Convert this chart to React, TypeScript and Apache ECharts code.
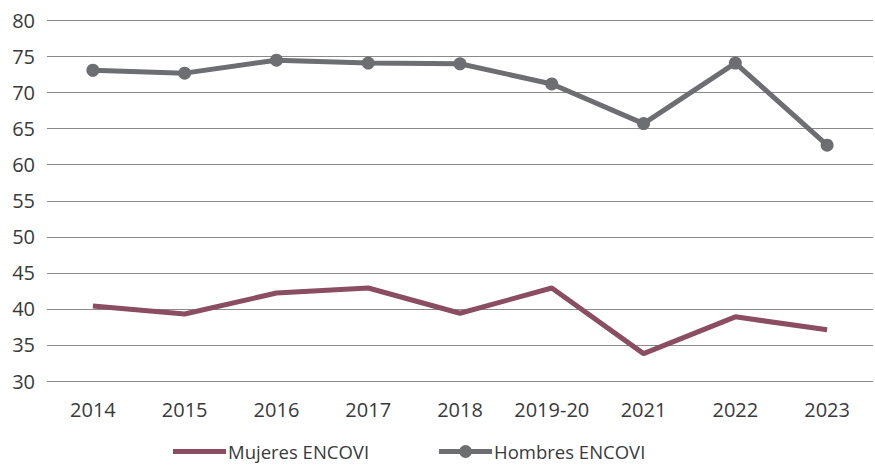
import React, { useEffect, useRef } from "react";
import * as echarts from "echarts";

const categories = ["2014", "2015", "2016", "2017", "2018", "2019-20", "2021", "2022", "2023"];
const mujeres = [40.4, 39.3, 42.2, 42.9, 39.4, 42.9, 33.8, 38.9, 37.1];
const hombres = [73.1, 72.7, 74.5, 74.1, 74.0, 71.2, 65.7, 74.1, 62.7];

const FONT = "Open Sans";
const TEXT = "#3a3a3a";
const C_MUJ = "#8a4d62";
const C_HOM = "#6d6e71";

const ICON_LINE = "path://M0,4 H53 V9 H0 Z";
const ICON_LINE_DOT =
  "path://M0,4 H21 V9 H0 Z M32,4 H53 V9 H32 Z M20,6.5 A6.5,6.5 0 1,1 33,6.5 A6.5,6.5 0 1,1 20,6.5 Z";

export default function App() {
  const ref = useRef<HTMLDivElement>(null);
  useEffect(() => {
    if (!ref.current) return;
    const chart = echarts.init(ref.current, undefined, { renderer: "svg" });
    chart.setOption({
      animation: false,
      textStyle: { fontFamily: FONT },
      grid: { left: 47, right: 2, top: 20.5, bottom: 85, containLabel: false },
      legend: {
        left: 168,
        top: 437,
        itemWidth: 53,
        itemHeight: 13,
        itemGap: 70,
        symbolKeepAspect: true,
        textStyle: { fontFamily: FONT, fontSize: 18.5, color: TEXT, padding: [0, 0, 0, -3] },
        data: [
          { name: "Mujeres ENCOVI", icon: ICON_LINE, itemStyle: { color: C_MUJ, borderWidth: 0 } },
          { name: "Hombres ENCOVI", icon: ICON_LINE_DOT, itemStyle: { color: C_HOM, borderWidth: 0 } },
        ],
      },
      xAxis: {
        type: "category",
        data: categories,
        boundaryGap: true,
        axisLine: { show: false },
        axisTick: { show: false },
        axisLabel: { fontFamily: FONT, fontSize: 20, color: TEXT, margin: 18, interval: 0 },
      },
      yAxis: {
        type: "value",
        min: 30,
        max: 80,
        interval: 5,
        axisLine: { show: false },
        axisTick: { show: false },
        axisLabel: { fontFamily: FONT, fontSize: 20, color: TEXT, margin: 12 },
        splitLine: { lineStyle: { color: "#8a8a8a", width: 1 } },
      },
      series: [
        {
          name: "Mujeres ENCOVI",
          type: "line",
          data: mujeres,
          symbol: "none",
          lineStyle: { color: C_MUJ, width: 5 },
          itemStyle: { color: C_MUJ },
        },
        {
          name: "Hombres ENCOVI",
          type: "line",
          data: hombres,
          symbol: "circle",
          symbolSize: 13,
          lineStyle: { color: C_HOM, width: 5 },
          itemStyle: { color: C_HOM },
        },
      ],
    });
    return () => chart.dispose();
  }, []);
  return <div ref={ref} style={{ width: 875, height: 466, position: "absolute", left: 0, top: 0 }} />;
}
